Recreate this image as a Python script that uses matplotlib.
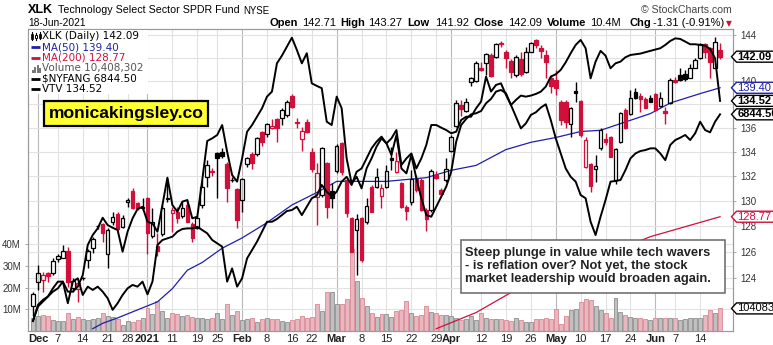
import numpy as np
import pandas as pd
import matplotlib
matplotlib.use("Agg")
import matplotlib.pyplot as plt
from matplotlib.patches import Rectangle, Polygon
from matplotlib.lines import Line2D
from matplotlib.ticker import FixedLocator, NullLocator, FuncFormatter

W, H = 773, 345

# trading days shown (XLK daily, 30-Nov-2020 .. 18-Jun-2021)
holidays = ["2020-12-25", "2021-01-01", "2021-01-18", "2021-02-15", "2021-04-02", "2021-05-31"]
dates = pd.bdate_range("2020-11-30", "2021-06-18")
dates = dates[~dates.isin(pd.to_datetime(holidays))]

opens = [121.92, 123.73, 123.85, 124.36, 124.36, 125.43, 125.56, 126.08, 123.27, 123.15,
         123.98, 125.38, 126.29, 128.03, 128.16, 125.87, 128.37, 128.95, 127.98, 129.97,
         130.85, 129.83, 129.58, 130.29, 127.25, 126.50, 127.38, 130.18, 129.04, 129.17,
         128.85, 129.70, 128.16, 127.85, 129.70, 131.97, 132.44, 133.88, 134.02, 132.98,
         131.73, 130.98, 130.10, 132.98, 133.80, 133.80, 135.63, 135.46, 135.96, 136.72,
         136.86, 137.09, 138.70, 136.52, 135.04, 136.52, 134.02, 130.37, 130.50, 133.06,
         130.82, 132.46, 134.71, 131.71, 128.64, 127.72, 128.64, 128.32, 131.12, 131.12,
         130.45, 131.12, 133.47, 132.38, 131.44, 129.56, 129.97, 131.79, 131.71, 129.30,
         129.30, 132.11, 130.90, 131.71, 134.08, 136.16, 137.93, 137.42, 139.86, 140.00,
         141.08, 141.57, 142.24, 142.04, 143.26, 142.48, 141.72, 140.50, 141.89, 140.73,
         142.54, 143.56, 142.88, 142.24, 140.21, 140.07, 138.22, 138.22, 136.30, 139.13,
         138.28, 132.79, 132.98, 132.60, 134.35, 135.07, 135.21, 131.71, 134.80, 137.51,
         137.14, 139.01, 138.73, 138.45, 138.50, 138.84, 137.85, 137.42, 138.08, 140.10,
         140.50, 140.59, 140.27, 141.14, 141.95, 143.17, 142.83, 141.14, 142.71]
highs = [122.97, 125.00, 124.43, 124.49, 125.51, 125.82, 126.55, 126.42, 123.98, 123.73,
         124.10, 126.24, 127.20, 128.11, 128.24, 127.90, 129.17, 129.11, 128.90, 130.29,
         131.04, 129.97, 130.24, 130.37, 129.43, 127.46, 129.70, 131.90, 129.56, 129.56,
         129.97, 130.10, 128.37, 128.85, 131.71, 133.33, 132.71, 134.02, 134.30, 133.14,
         131.97, 131.09, 131.90, 133.61, 134.02, 135.27, 135.74, 136.38, 136.75, 136.86,
         137.65, 138.36, 138.87, 136.80, 136.10, 136.72, 134.35, 133.06, 134.44, 133.20,
         131.44, 134.63, 134.85, 131.84, 128.77, 128.95, 128.77, 130.24, 131.30, 132.71,
         131.36, 132.93, 134.44, 134.02, 131.58, 129.70, 132.52, 132.11, 131.84, 129.43,
         132.60, 132.44, 131.04, 133.47, 135.41, 138.36, 138.36, 138.50, 140.36, 141.72,
         141.66, 142.44, 142.39, 143.26, 143.47, 142.68, 141.89, 142.24, 142.53, 142.97,
         143.41, 143.62, 143.12, 142.68, 140.50, 140.94, 138.36, 138.36, 137.79, 139.92,
         138.36, 135.27, 133.06, 133.75, 135.96, 135.55, 135.32, 134.35, 137.31, 137.65,
         139.21, 139.41, 138.93, 138.65, 138.79, 138.99, 139.07, 137.79, 140.21, 140.30,
         141.08, 140.94, 141.43, 142.01, 143.26, 143.26, 142.97, 143.85, 143.27]
lows = [121.17, 123.10, 122.97, 123.73, 124.23, 125.20, 125.51, 123.35, 122.97, 122.22,
        123.85, 124.74, 125.90, 127.80, 126.81, 124.79, 128.11, 127.72, 127.90, 129.56,
        129.35, 129.27, 129.30, 125.82, 127.07, 125.72, 127.28, 129.97, 127.59, 128.24,
        128.69, 128.32, 126.81, 127.80, 129.43, 131.17, 132.05, 130.29, 133.52, 129.97,
        131.58, 127.85, 129.17, 132.79, 132.60, 133.69, 134.52, 135.27, 135.90, 134.80,
        136.24, 136.95, 137.71, 135.96, 134.10, 135.55, 132.38, 128.11, 130.37, 128.64,
        129.43, 132.25, 132.11, 128.77, 126.00, 124.23, 125.25, 128.16, 129.11, 131.04,
        129.48, 131.04, 132.52, 132.30, 129.48, 128.50, 129.70, 130.77, 129.22, 127.64,
        129.17, 131.79, 130.45, 131.58, 134.02, 136.10, 137.03, 137.31, 139.57, 139.92,
        140.86, 140.50, 140.36, 141.95, 142.97, 141.08, 140.21, 140.36, 140.44, 140.65,
        142.48, 142.83, 141.95, 140.21, 138.93, 138.79, 136.24, 135.96, 135.27, 138.16,
        135.27, 132.65, 130.77, 131.58, 134.16, 134.58, 133.55, 131.36, 134.71, 135.90,
        137.09, 138.45, 137.37, 137.65, 138.16, 137.42, 137.79, 136.30, 138.00, 139.80,
        139.99, 139.99, 140.21, 141.08, 141.89, 141.95, 140.21, 141.08, 141.92]
closes = [122.77, 124.36, 124.23, 124.18, 125.33, 125.69, 126.08, 123.68, 123.78, 123.60,
          123.97, 126.11, 126.99, 128.00, 127.46, 127.72, 128.77, 127.80, 128.64, 130.10,
          129.48, 129.43, 129.46, 127.46, 128.32, 126.08, 129.48, 130.29, 129.30, 128.64,
          129.48, 128.37, 127.07, 128.69, 131.17, 132.93, 132.33, 133.47, 133.69, 131.09,
          131.70, 128.50, 131.76, 133.52, 133.06, 135.18, 134.85, 136.30, 136.16, 135.96,
          137.51, 138.22, 137.79, 136.44, 135.74, 135.63, 132.60, 132.25, 134.30, 129.56,
          130.29, 134.49, 132.38, 129.04, 126.03, 128.56, 125.38, 129.64, 129.17, 131.97,
          131.04, 132.44, 133.33, 133.25, 129.56, 129.22, 131.79, 130.90, 129.30, 128.59,
          132.46, 131.84, 130.56, 132.60, 135.27, 138.08, 137.56, 138.22, 140.27, 141.57,
          140.94, 142.30, 140.44, 143.20, 143.17, 141.95, 140.73, 142.10, 140.56, 142.54,
          143.26, 143.12, 142.60, 141.60, 139.58, 139.36, 136.66, 136.52, 137.71, 138.93,
          135.41, 134.99, 131.23, 132.87, 135.82, 134.80, 133.61, 134.24, 137.23, 135.96,
          138.50, 138.56, 138.45, 137.71, 138.22, 137.51, 138.50, 137.23, 140.10, 139.92,
          140.10, 140.16, 141.14, 141.81, 143.20, 142.54, 141.60, 143.40, 142.09]
volume_m = [6.0, 7.0, 7.3, 6.7, 5.2, 4.8, 4.7, 8.3, 5.4, 6.5,
            5.4, 5.2, 5.7, 6.0, 8.5, 7.0, 6.5, 5.4, 2.6, 4.6,
            4.3, 5.2, 6.0, 10.7, 7.8, 13.8, 9.2, 6.0, 8.3, 8.0,
            6.7, 7.4, 6.5, 6.0, 6.0, 5.4, 5.9, 8.3, 5.4, 12.3,
            7.6, 9.2, 5.2, 5.4, 6.0, 4.2, 5.4, 5.9, 5.7, 5.4,
            4.8, 4.0, 5.0, 5.4, 7.0, 6.0, 6.5, 12.3, 9.2, 18.0,
            18.0, 12.3, 12.3, 14.9, 38.0, 23.0, 15.4, 11.5, 8.3, 6.6,
            7.8, 7.8, 6.5, 9.2, 9.5, 13.8, 8.4, 7.1, 7.6, 11.5,
            8.9, 8.4, 7.6, 7.3, 6.9, 6.2, 4.9, 5.4, 6.9, 5.1,
            8.2, 5.9, 5.7, 5.7, 5.7, 5.1, 4.6, 5.9, 4.9, 4.3,
            4.3, 5.4, 5.4, 5.9, 5.7, 10.0, 3.1, 6.9, 9.5, 10.0,
            13.4, 14.6, 14.1, 11.5, 9.5, 8.4, 6.2, 15.1, 8.9, 7.3,
            6.5, 6.2, 6.2, 5.4, 4.9, 6.2, 6.2, 5.9, 5.9, 5.9,
            4.9, 5.4, 5.9, 6.2, 5.9, 7.6, 9.5, 8.4, 10.41]

# overlays, as drawn against the XLK price scale
nyfang = [120.77, 121.97, 122.35, 122.60, 123.22, 123.73, 123.73, 122.97, 122.97, 123.35,
          124.23, 126.55, 127.33, 127.85, 128.69, 128.11, 127.90, 127.72, 126.03, 127.59,
          128.64, 129.38, 129.56, 128.37, 128.24, 127.59, 129.70, 131.90, 129.70, 129.17,
          129.97, 130.10, 128.64, 128.77, 131.71, 134.91, 135.13, 135.41, 136.24, 134.02,
          132.11, 131.58, 133.47, 135.68, 136.24, 136.94, 137.65, 138.64, 139.07, 141.51,
          142.18, 142.97, 143.76, 142.68, 141.51, 142.39, 139.78, 139.56, 139.36, 136.52,
          136.24, 138.64, 137.65, 133.47, 131.44, 131.97, 131.04, 132.65, 133.47, 134.44,
          135.13, 134.71, 133.75, 135.41, 132.65, 132.25, 133.75, 131.84, 130.24, 128.90,
          128.77, 129.56, 130.37, 131.17, 132.38, 134.85, 136.24, 136.75, 137.14, 137.23,
          137.42, 138.08, 138.45, 139.07, 139.21, 138.93, 137.93, 136.94, 135.96, 136.38,
          137.09, 137.31, 137.71, 137.99, 136.66, 135.13, 133.88, 132.65, 131.97, 131.58,
          130.50, 130.24, 128.37, 127.33, 128.77, 130.10, 131.58, 131.63, 131.71, 132.52,
          133.47, 133.88, 134.08, 134.16, 134.30, 134.30, 133.88, 133.33, 134.58, 134.99,
          135.18, 135.41, 134.99, 135.55, 136.52, 135.82, 135.63, 136.52, 137.14]
vtv = [120.77, 121.85, 122.22, 122.60, 122.97, 123.22, 123.73, 122.10, 123.73, 123.98,
       122.72, 123.35, 123.10, 123.35, 122.97, 122.47, 121.60, 122.10, 122.72, 123.22,
       123.48, 123.35, 123.73, 122.77, 123.73, 126.55, 126.94, 127.07, 127.20, 127.59,
       127.80, 127.85, 127.85, 127.98, 127.72, 127.46, 126.94, 126.68, 126.42, 123.73,
       124.74, 123.35, 123.98, 125.51, 126.16, 126.81, 127.59, 128.37, 128.37, 128.59,
       128.90, 129.22, 129.30, 129.56, 128.90, 129.56, 130.24, 130.45, 131.31, 130.77,
       130.37, 130.77, 131.58, 131.97, 131.31, 132.38, 132.65, 133.47, 134.30, 134.85,
       135.27, 134.71, 135.13, 135.82, 132.93, 133.47, 133.88, 132.65, 133.47, 134.58,
       136.24, 136.24, 136.02, 135.82, 135.55, 135.68, 136.66, 136.94, 136.94, 137.65,
       138.22, 140.36, 139.07, 139.64, 139.78, 138.79, 137.93, 138.36, 138.73, 138.64,
       138.73, 138.87, 139.07, 139.50, 140.36, 140.56, 140.94, 141.60, 142.39, 143.12,
       143.56, 142.83, 140.21, 141.66, 142.60, 142.18, 141.08, 141.51, 141.66, 142.04,
       142.24, 142.30, 142.36, 142.48, 142.60, 142.71, 142.83, 143.12, 143.47, 143.70,
       143.65, 143.41, 143.18, 143.18, 143.12, 143.06, 142.77, 141.95, 138.28]

# moving averages (trading-day number, value)
ma50_day = [12, 14, 17, 21, 25, 28, 31, 34, 38, 42, 47, 52, 57, 61, 65, 71, 79, 84,
            89, 95, 100, 105, 110, 114, 119, 124, 128, 134, 138]
ma50 = [120.2, 120.6, 121.0, 121.6, 122.2, 123.2, 124.6, 125.2, 126.3, 127.1, 128.3,
        129.7, 130.7, 131.6, 131.6, 131.6, 131.9, 132.5, 132.9, 134.2, 134.8, 135.2,
        135.7, 135.8, 136.5, 137.2, 138.1, 138.9, 139.4]
ma200_day = [81, 89, 96, 105, 115, 124, 138]
ma200 = [120.2, 121.4, 122.9, 124.3, 125.8, 127.2, 128.77]

tick_dates = pd.to_datetime([
    "2020-12-01", "2020-12-07", "2020-12-14", "2020-12-21", "2020-12-28",
    "2021-01-04", "2021-01-11", "2021-01-19", "2021-01-25", "2021-02-01",
    "2021-02-08", "2021-02-16", "2021-02-22", "2021-03-01", "2021-03-08",
    "2021-03-15", "2021-03-22", "2021-03-29", "2021-04-01", "2021-04-12",
    "2021-04-19", "2021-04-26", "2021-05-03", "2021-05-10", "2021-05-17",
    "2021-05-24", "2021-06-01", "2021-06-07", "2021-06-14"])
price_ticks = list(range(124, 145, 2))
hidden_ticks = [138, 142]   # sit under the value tags on the reference
vol_ticks = [10, 20, 30, 40]

RED = "#d0103a"
NAVY = "#1f1fa8"
GRID = "#e2e2e2"
MGRID = "#b9b9b9"
SPINE = "#9a9a9a"

plt.rcParams["font.family"] = ["Liberation Sans", "DejaVu Sans"]

fig = plt.figure(figsize=(W / 100, H / 100), dpi=100)
L, R, T, B = 28, 733, 29, 331
axv = fig.add_axes([L / W, 1 - B / H, (R - L) / W, (B - T) / H])
ax = axv.twinx()

x = np.arange(len(dates))
o = np.array(opens); h = np.array(highs); lo = np.array(lows); c = np.array(closes)
prev = np.r_[c[0], c[:-1]]
down = c < prev

PMIN, PMAX = 120.03, 144.53
VMAX = 139.2

# grid (drawn on the volume axes so it stays behind everything)
tick_pos = [dates.get_loc(d) for d in tick_dates]
tick_lbl, month_start = [], []
pm = None
for d in tick_dates:
    if d.month != pm:
        tick_lbl.append(str(d.year) if d.month == 1 else d.strftime("%b"))
        month_start.append(True)
    else:
        tick_lbl.append(str(d.day))
        month_start.append(False)
    pm = d.month
for p, m in zip(tick_pos, month_start):
    axv.axvline(p, color=MGRID if m else GRID, lw=0.8, zorder=0)
for p in price_ticks:
    yv = VMAX * np.log(p / PMIN) / np.log(PMAX / PMIN)
    axv.axhline(yv, color=GRID, lw=0.8, zorder=0)
for v in vol_ticks:
    axv.axhline(v, color=GRID, lw=0.8, zorder=0)

# volume
vfill = np.where(down, "#e9b7bf", "#c0c0c0")
vedge = np.where(down, "#d98893", "#8e8e8e")
axv.bar(x, volume_m, width=0.8, color=vfill, edgecolor=vedge, linewidth=0.6, zorder=2)
axv.set_ylim(0, VMAX)
axv.set_xlim(-1.0, 140.6)
axv.yaxis.set_major_locator(FixedLocator(vol_ticks))
axv.yaxis.set_major_formatter(FuncFormatter(lambda v, _: f"{v:.0f}M"))
axv.tick_params(axis="y", length=2.5, width=0.6, color=SPINE, pad=2.5, labelsize=7, labelcolor="#333")
axv.set_xticks(tick_pos)
axv.set_xticklabels(tick_lbl)
axv.tick_params(axis="x", length=0, pad=2, labelsize=8, labelcolor="#222")
for t, m in zip(axv.get_xticklabels(), month_start):
    if m:
        t.set_fontweight("bold")

# price
ax.set_yscale("log")
ax.set_ylim(PMIN, PMAX)
ax.yaxis.set_major_locator(FixedLocator(price_ticks))
ax.yaxis.set_minor_locator(NullLocator())
ax.yaxis.set_major_formatter(FuncFormatter(lambda v, _: "" if round(v) in hidden_ticks else f"{v:.0f}"))
ax.tick_params(axis="y", which="both", length=2.5, width=0.6, color=SPINE, pad=2.5, labelsize=7, labelcolor="#333")

ax.plot(ma200_day, ma200, color=RED, lw=0.9, zorder=2)
ax.plot(ma50_day, ma50, color=NAVY, lw=0.9, zorder=2)

cols = np.where(down, RED, "black")
top = np.maximum(o, c); bot = np.minimum(o, c)
ax.vlines(x, top, h, colors=cols, lw=1.0, zorder=3)
ax.vlines(x, lo, bot, colors=cols, lw=1.0, zorder=3)
for xi, b0, t0, col, hollow in zip(x, bot, top, cols, c > o):
    ax.add_patch(Rectangle((xi - 0.36, b0), 0.72, t0 - b0, facecolor="none" if hollow else col,
                           edgecolor=col, lw=0.9, zorder=3))

ax.plot(x, nyfang, color="black", lw=1.4, zorder=4)
ax.plot(x, vtv, color="black", lw=1.4, zorder=4)

for a in (ax, axv):
    for s in a.spines.values():
        s.set_color(SPINE)
        s.set_linewidth(0.8)


def ftxt(px, py, s, **kw):
    kw.setdefault("va", "center")
    return fig.text(px / W, 1 - py / H, s, **kw)


def frect(x0, y0, x1, y1, **kw):
    r = Rectangle((x0 / W, 1 - y1 / H), (x1 - x0) / W, (y1 - y0) / H, transform=fig.transFigure, **kw)
    fig.add_artist(r)


def fline(xs, ys, **kw):
    fig.add_artist(Line2D([v / W for v in xs], [1 - v / H for v in ys], transform=fig.transFigure, **kw))


# header
ftxt(28, 10, "XLK", fontsize=9, fontweight="bold")
ftxt(58, 10, "Technology Select Sector SPDR Fund", fontsize=7.7)
ftxt(243, 10.5, "NYSE", fontsize=6.9)
ftxt(641, 10, "\u00a9 StockCharts.com", fontsize=7.6, color="#444")
ftxt(28, 23, "18-Jun-2021", fontsize=7.4)
hdr = [(269, "Open", True), (302, "142.71", False), (340, "High", True), (368, "143.27", False),
       (407, "Low", True), (435, "141.92", False), (473, "Close", True), (508, "142.09", False),
       (547, "Volume", True), (590, "10.4M", False), (629, "Chg", True), (653, "-1.31 (-0.91%)", False)]
for px, s, bold in hdr:
    ftxt(px, 23, s, fontsize=8.0, fontweight="bold" if bold else "normal")
ftxt(729, 24, "\u25bc", fontsize=5.5, color=RED, ha="center", family="DejaVu Sans")

# legend block
frect(29, 30, 148, 94, facecolor="white", edgecolor="none", zorder=1)
rows = [36, 47, 58, 68.5, 78.5, 88.5]
leg = [("XLK (Daily) 142.09", "black"), ("MA(50) 139.40", NAVY), ("MA(200) 128.77", RED),
       ("Volume 10,408,302", "#555"), ("$NYFANG 6844.50", "black"), ("VTV 134.52", "black")]
for ry, (s, col) in zip(rows, leg):
    ftxt(42.5, ry, s, fontsize=7.5, color=col, family="DejaVu Sans")
for ry, col in zip([rows[1], rows[2], rows[4], rows[5]], [NAVY, RED, "black", "black"]):
    fline([31, 40], [ry, ry], color=col, lw=2.0, solid_capstyle="butt")
ry = rows[0]
fline([32, 32], [ry - 4, ry + 4], color="black", lw=0.8)
frect(31, ry - 2.5, 33, ry + 2.5, facecolor="black", edgecolor="black", lw=0.5, zorder=2)
fline([36, 36], [ry - 3, ry + 4], color="black", lw=0.8)
frect(35, ry - 1.5, 37, ry + 2, facecolor="white", edgecolor="black", lw=0.7, zorder=2)
fline([39.5, 39.5], [ry - 4, ry + 3], color="black", lw=0.8)
frect(38.5, ry - 2.5, 40.5, ry + 1.5, facecolor="black", edgecolor="black", lw=0.5, zorder=2)
ry = rows[3]
for bx, bh in zip([31.5, 34, 36.5, 39], [3, 6, 8, 5]):
    frect(bx, ry + 4 - bh, bx + 2, ry + 4, facecolor="#777", edgecolor="none", zorder=2)

# logo
frect(44, 101, 208, 126, facecolor="#ffff33", edgecolor="black", lw=1.6, zorder=1.5)
ftxt(126, 113.5, "monicakingsley.co", fontsize=12.6, fontweight="bold", ha="center")

# comment box
frect(461, 240, 725, 293, facecolor="white", edgecolor="#666", lw=1.1, zorder=1.5)
ftxt(465, 266, "Steep plunge in value while tech wavers\n- is reflation over? Not yet, the stock\n"
     "market leadership would broaden again.", fontsize=9.3, fontweight="bold", color="#222",
     linespacing=1.08)

# value tags at the right edge
renderer = fig.canvas.get_renderer()


def tag(axis, val, s, col, bold):
    yd = axis.transData.transform((0, val))[1]
    py = H - yd
    t = ftxt(737.5, py, s, fontsize=8, fontweight="bold" if bold else "normal", color=col, zorder=6)
    bb = t.get_window_extent(renderer)
    x1 = bb.x1 + 2.5
    hh = 5.5
    pts = [(731.5, py), (736.5, py - hh), (x1, py - hh), (x1, py + hh), (736.5, py + hh)]
    fig.add_artist(Polygon([(px / W, 1 - qy / H) for px, qy in pts], closed=True,
                           transform=fig.transFigure, facecolor="white", edgecolor=col,
                           lw=1.0, zorder=5))


tag(ax, closes[-1], f"{closes[-1]:.2f}", "black", True)
tag(ax, ma50[-1], f"{ma50[-1]:.2f}", NAVY, False)
tag(ax, vtv[-1], "134.52", "black", True)
tag(ax, nyfang[-1], "6844.50", "black", True)
tag(ax, ma200[-1], f"{ma200[-1]:.2f}", RED, False)
tag(axv, volume_m[-1], "10408302", "black", False)

fig.savefig("out.png", dpi=100)
